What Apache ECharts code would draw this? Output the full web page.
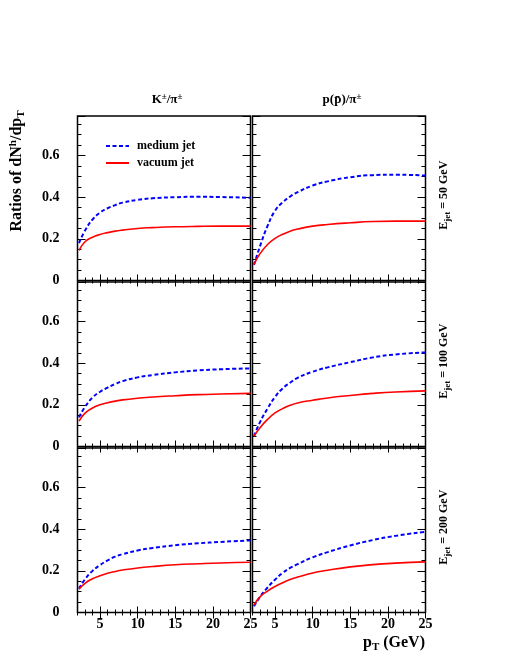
<!DOCTYPE html>
<html>
<head>
<meta charset="utf-8">
<script src="https://cdn.jsdelivr.net/npm/echarts@6/dist/echarts.min.js"></script>
<style>
  html, body { margin: 0; padding: 0; background: #fff; }
  #chart { width: 510px; height: 660px; }
</style>
</head>
<body>
<div id="chart"></div>
<script>
// pT points (GeV) shared by every curve
var pT = [2.2, 3, 4, 5, 6, 7, 8, 10, 12, 15, 18, 21, 25]

// K/pi ratios
var kaonMedium50  = [0.180, 0.240, 0.293, 0.326, 0.347, 0.362, 0.374, 0.387, 0.395, 0.400, 0.402, 0.401, 0.397]
var kaonVacuum50  = [0.145, 0.186, 0.208, 0.221, 0.230, 0.237, 0.242, 0.250, 0.254, 0.258, 0.260, 0.261, 0.261]
var kaonMedium100 = [0.140, 0.190, 0.235, 0.263, 0.283, 0.300, 0.314, 0.332, 0.343, 0.356, 0.365, 0.371, 0.375]
var kaonVacuum100 = [0.122, 0.160, 0.185, 0.200, 0.210, 0.218, 0.224, 0.232, 0.238, 0.244, 0.249, 0.252, 0.255]
var kaonMedium200 = [0.115, 0.160, 0.200, 0.228, 0.250, 0.268, 0.280, 0.298, 0.310, 0.323, 0.332, 0.339, 0.346]
var kaonVacuum200 = [0.112, 0.140, 0.162, 0.176, 0.188, 0.197, 0.204, 0.214, 0.221, 0.229, 0.234, 0.238, 0.241]

// p/pi ratios
var protonMedium50  = [0.075, 0.165, 0.262, 0.335, 0.375, 0.403, 0.424, 0.456, 0.476, 0.496, 0.506, 0.508, 0.504]
var protonVacuum50  = [0.077, 0.129, 0.173, 0.202, 0.222, 0.237, 0.247, 0.261, 0.269, 0.277, 0.283, 0.285, 0.285]
var protonMedium100 = [0.050, 0.117, 0.182, 0.238, 0.279, 0.306, 0.330, 0.359, 0.380, 0.405, 0.428, 0.442, 0.452]
var protonVacuum100 = [0.050, 0.090, 0.130, 0.161, 0.182, 0.198, 0.209, 0.222, 0.233, 0.245, 0.255, 0.262, 0.267]
var protonMedium200 = [0.030, 0.075, 0.120, 0.158, 0.190, 0.214, 0.232, 0.265, 0.290, 0.322, 0.348, 0.368, 0.388]
var protonVacuum200 = [0.037, 0.075, 0.103, 0.125, 0.143, 0.158, 0.170, 0.190, 0.203, 0.219, 0.230, 0.237, 0.243]

var xLabelValues = [5, 10, 15, 20, 25]
var jetEnergies = ['50', '100', '200']

// panels row by row: [medium, vacuum]
var panels = [
  [kaonMedium50, kaonVacuum50], [protonMedium50, protonVacuum50],
  [kaonMedium100, kaonVacuum100], [protonMedium100, protonVacuum100],
  [kaonMedium200, kaonVacuum200], [protonMedium200, protonVacuum200]
]

var FONT = 'Liberation Serif'
var colLeft = [77.5, 252.5]
var rowTop = [116, 282, 448]
var W = 173, H = 164.5

var grids = [], xAxes = [], yAxes = [], series = []

function pairs(arr){
  return pT.map(function(x, i){ return [x, arr[i]] })
}

panels.forEach(function(p, i){
  var row = Math.floor(i / 2), col = i % 2
  grids.push({
    left: colLeft[col], top: rowTop[row], width: W, height: H,
    show: true, borderColor: '#000', borderWidth: 1.5, backgroundColor: 'transparent'
  })
  ;['bottom', 'top'].forEach(function(pos){
    // minor ticks every 1 GeV
    xAxes.push({
      type: 'value', gridIndex: i, position: pos, min: 2, max: 25, interval: 1,
      axisLine: { show: false }, splitLine: { show: false },
      axisTick: { inside: true, length: 3, lineStyle: { color: '#000', width: 1 } },
      axisLabel: { show: false }
    })
    // major ticks
    var showLab = pos === 'bottom' && row === 2
    xAxes.push({
      type: 'value', gridIndex: i, position: pos, min: 2, max: 25,
      axisLine: { show: false }, splitLine: { show: false },
      axisTick: { inside: true, length: 6, customValues: xLabelValues, lineStyle: { color: '#000', width: 1 } },
      axisLabel: {
        show: showLab, customValues: xLabelValues, margin: 5,
        color: '#000', fontFamily: FONT, fontWeight: 'bold', fontSize: 14
      }
    })
  })
  ;['left', 'right'].forEach(function(pos){
    yAxes.push({
      type: 'value', gridIndex: i, position: pos, min: 0, max: 0.79, interval: 0.05,
      axisLine: { show: false }, splitLine: { show: false },
      axisTick: { inside: true, length: 4, lineStyle: { color: '#000', width: 1 } },
      axisLabel: { show: false }
    })
    var showLab = pos === 'left' && col === 0
    yAxes.push({
      type: 'value', gridIndex: i, position: pos, min: 0, max: 0.79, interval: 0.2,
      axisLine: { show: false }, splitLine: { show: false },
      axisTick: { inside: true, length: 8, lineStyle: { color: '#000', width: 1 } },
      axisLabel: {
        show: showLab, margin: 18,
        color: '#000', fontFamily: FONT, fontWeight: 'bold', fontSize: 14,
        formatter: function(v){ return v > 0.7 ? '' : String(Math.round(v * 10) / 10) }
      }
    })
  })
  series.push({
    name: 'medium jet', type: 'line', xAxisIndex: 4 * i, yAxisIndex: 4 * i,
    data: pairs(p[0]), smooth: true, symbol: 'none', showSymbol: false,
    color: '#0000ff', lineStyle: { color: '#0000ff', width: 2, type: [4, 2.5] }
  })
  series.push({
    name: 'vacuum jet', type: 'line', xAxisIndex: 4 * i, yAxisIndex: 4 * i,
    data: pairs(p[1]), smooth: true, symbol: 'none', showSymbol: false,
    color: '#ff0000', lineStyle: { color: '#ff0000', width: 1.6 }
  })
})

var rich = {
  sup: { fontSize: 9, fontFamily: FONT, fontWeight: 'bold', padding: [0, 0, 6, 0], fill: '#000' },
  sub: { fontSize: 9, fontFamily: FONT, fontWeight: 'bold', padding: [8, 0, 0, 0], fill: '#000' }
}

var graphics = [
  { type: 'text', x: 167, y: 100, style: { text: 'K{sup|±}/π{sup|±}', rich: rich, font: 'bold 13px ' + FONT, fill: '#000', textAlign: 'center', textVerticalAlign: 'middle', align: 'center', verticalAlign: 'middle' } },
  { type: 'text', x: 342, y: 100, style: { text: 'p(p\u0304)/π{sup|±}', rich: rich, font: 'bold 13px ' + FONT, fill: '#000', textAlign: 'center', textVerticalAlign: 'middle', align: 'center', verticalAlign: 'middle' } },
  { type: 'text', x: 17, y: 171, rotation: Math.PI / 2, style: { text: 'Ratios of dN{sup|h}/dp{sub|T}', rich: {
      sup: { fontSize: 11, fontFamily: FONT, fontWeight: 'bold', padding: [0, 0, 7, 0] },
      sub: { fontSize: 11, fontFamily: FONT, fontWeight: 'bold', padding: [9, 0, 0, 0] }
    }, font: 'bold 16px ' + FONT, fill: '#000', textAlign: 'center', textVerticalAlign: 'middle', align: 'center', verticalAlign: 'middle' } },
  { type: 'text', x: 425, y: 643, style: { text: 'p{sub|T} (GeV)', rich: {
      sub: { fontSize: 11, fontFamily: FONT, fontWeight: 'bold', padding: [9, 0, 0, 0] }
    }, font: 'bold 16px ' + FONT, fill: '#000', textAlign: 'right', textVerticalAlign: 'middle', align: 'right', verticalAlign: 'middle' } }
]
jetEnergies.forEach(function(e, r){
  graphics.push({
    type: 'text', x: 444, y: rowTop[r] + H / 2 - 3, rotation: Math.PI / 2,
    style: { text: 'E{sub|jet} = ' + e + ' GeV', rich: rich, font: 'bold 12px ' + FONT, fill: '#000',
      textAlign: 'center', textVerticalAlign: 'middle', align: 'center', verticalAlign: 'middle' }
  })
})

var chart = echarts.init(document.getElementById('chart'), null, { renderer: 'canvas' })
chart.setOption({
  animation: false,
  backgroundColor: '#fff',
  grid: grids,
  xAxis: xAxes,
  yAxis: yAxes,
  legend: {
    data: ['medium jet', 'vacuum jet'],
    orient: 'vertical', left: 100, top: 135,
    itemWidth: 23, itemHeight: 10, itemGap: 5,
    itemStyle: { opacity: 0 },
    textStyle: { color: '#000', fontFamily: FONT, fontWeight: 'bold', fontSize: 12, padding: [0, 0, 0, 3] }
  },
  graphic: graphics,
  series: series
})
</script>
</body>
</html>
